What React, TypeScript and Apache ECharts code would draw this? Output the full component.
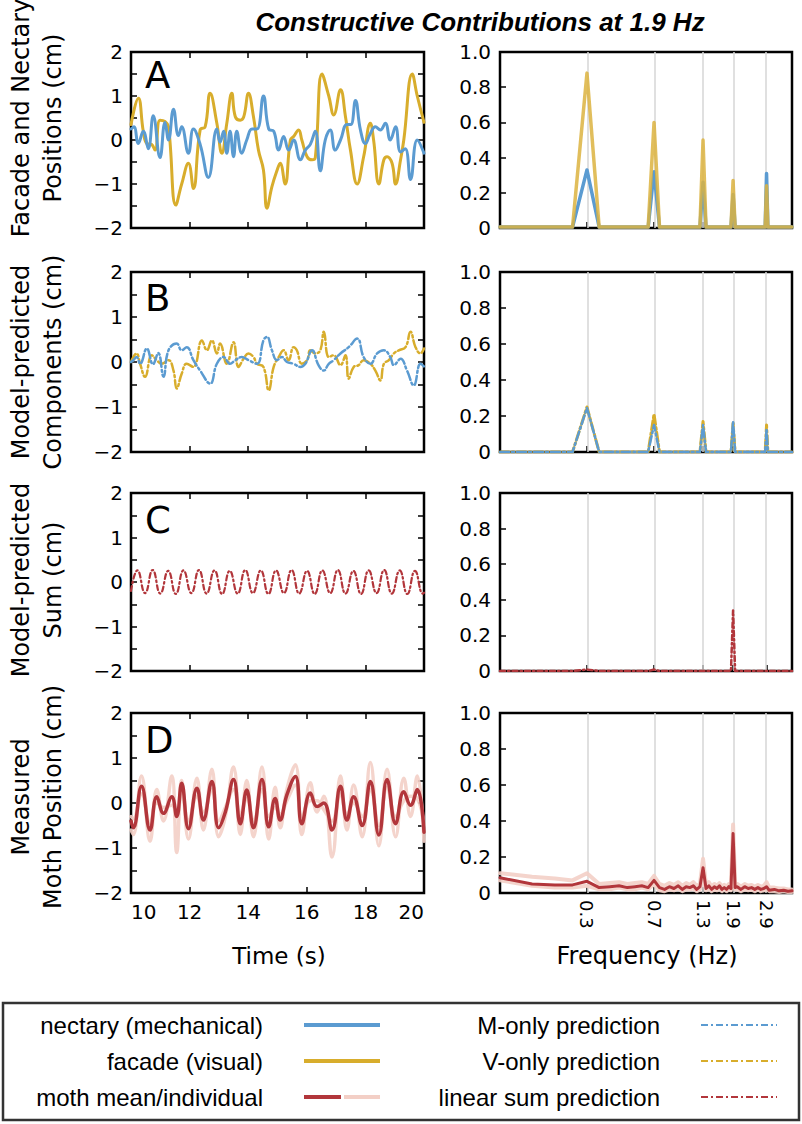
import React, { useEffect, useRef } from 'react';
import * as echarts from 'echarts';

// ---------------- DATA ----------------
// Time-domain traces: [time (s), position (cm)]
const FACADE_A: [number, number][] = [
  [10.0, 0.35], [10.25, 0.95], [10.42, 0.2], [10.54, -0.08], [10.7, -0.1], [10.82, -0.23], [10.99, 0.45],
  [11.16, 0.42], [11.28, 0.3], [11.53, -1.48], [11.73, -1.0], [11.96, -0.53], [12.13, -1.1], [12.36, 0.23],
  [12.53, 0.3], [12.7, 1.06], [12.93, 0.38], [13.1, -0.3], [13.27, 0.38], [13.44, 1.06], [13.56, 0.53],
  [13.73, 0.45], [13.85, 0.53], [14.01, 1.06], [14.18, 0.53], [14.35, -0.23], [14.52, -0.68], [14.64, -1.55],
  [14.81, -1.06], [14.98, -0.7], [15.09, -0.53], [15.26, -1.0], [15.44, 0.0], [15.55, 0.08], [15.72, 0.23],
  [15.83, 0.0], [16.01, -0.38], [16.18, -0.45], [16.29, -0.4], [16.52, 1.5], [16.75, 1.0], [16.92, 0.57],
  [17.15, 1.14], [17.32, 0.53], [17.49, -0.23], [17.72, -1.0], [17.94, -0.38], [18.17, 0.38], [18.28, 0.0],
  [18.46, -1.0], [18.63, -0.45], [18.74, -0.38], [18.91, -0.53], [19.03, -1.0], [19.2, -0.45], [19.31, 0.0],
  [19.6, 1.5], [19.77, 1.0], [20.0, 0.4],
];
const NECTARY_A: [number, number][] = [
  [10.0, 0.25], [10.1, 0.3], [10.25, -0.08], [10.42, 0.2], [10.59, -0.2], [10.76, 0.55], [10.99, -0.4],
  [11.16, 0.4], [11.28, 0.0], [11.45, 0.7], [11.62, 0.1], [11.73, 0.3], [11.96, -0.3], [12.13, 0.25],
  [12.36, -0.1], [12.64, -0.85], [12.93, 0.25], [13.04, -0.05], [13.16, 0.2], [13.27, -0.3], [13.38, 0.2],
  [13.5, -0.38], [13.61, 0.2], [13.78, -0.3], [13.95, 0.0], [14.13, 0.25], [14.3, 0.25], [14.52, 1.0],
  [14.7, 0.25], [14.87, 0.2], [15.04, -0.23], [15.21, 0.08], [15.38, -0.23], [15.55, 0.0], [15.78, -0.45],
  [15.95, -0.23], [16.12, -0.1], [16.29, 0.2], [16.46, -0.7], [16.63, 0.0], [16.8, 0.23], [16.97, -0.23],
  [17.15, 0.0], [17.37, 0.35], [17.5, 0.35], [17.66, 0.9], [17.83, 0.23], [18.0, -0.08], [18.17, 0.15],
  [18.34, 0.3], [18.51, 0.23], [18.68, 0.38], [18.85, 0.0], [19.03, 0.3], [19.2, -0.27], [19.36, -0.2],
  [19.54, -0.9], [19.77, 0.0], [20.0, -0.3],
];
const M_ONLY_B: [number, number][] = [
  [10.0, 0.0], [10.08, 0.04], [10.19, 0.11], [10.31, -0.04], [10.54, 0.3], [10.75, -0.05], [10.93, 0.2],
  [11.11, -0.33], [11.28, 0.26], [11.56, 0.41], [11.73, 0.26], [11.9, 0.33], [12.13, 0.04], [12.36, -0.19],
  [12.7, -0.48], [12.93, -0.04], [13.16, 0.11], [13.38, -0.04], [13.56, 0.04], [13.78, 0.11], [14.01, 0.04],
  [14.3, -0.04], [14.52, 0.48], [14.64, 0.56], [14.81, 0.26], [14.98, 0.04], [15.15, 0.11], [15.32, 0.0],
  [15.55, -0.04], [15.78, -0.11], [15.95, -0.04], [16.18, 0.26], [16.4, -0.07], [16.58, -0.19], [16.75, -0.04],
  [16.92, 0.04], [17.15, 0.19], [17.43, 0.33], [17.72, 0.52], [17.94, 0.11], [18.17, -0.04], [18.4, 0.19],
  [18.63, 0.26], [18.85, 0.11], [18.97, -0.07], [19.2, 0.07], [19.42, -0.19], [19.65, -0.52], [19.88, -0.04],
  [20.0, -0.1],
];
const V_ONLY_B: [number, number][] = [
  [10.0, 0.0], [10.19, 0.19], [10.31, -0.04], [10.48, -0.33], [10.71, 0.15], [10.88, 0.04], [11.05, -0.04],
  [11.28, 0.04], [11.45, -0.19], [11.56, -0.59], [11.73, -0.26], [11.9, -0.04], [12.13, -0.11], [12.42, 0.48],
  [12.59, 0.26], [12.76, 0.48], [12.93, 0.19], [13.04, 0.41], [13.27, -0.04], [13.5, 0.44], [13.67, -0.11],
  [13.84, 0.07], [14.01, 0.19], [14.18, 0.11], [14.3, -0.04], [14.52, -0.11], [14.7, -0.63], [14.87, -0.11],
  [15.04, 0.11], [15.21, 0.26], [15.38, 0.04], [15.55, 0.33], [15.66, 0.26], [15.83, -0.04], [16.01, 0.04],
  [16.12, 0.26], [16.29, 0.19], [16.46, 0.26], [16.58, 0.67], [16.75, 0.11], [16.92, 0.15], [17.15, -0.07],
  [17.32, 0.15], [17.43, -0.37], [17.6, -0.11], [17.77, -0.07], [17.94, 0.04], [18.17, -0.04], [18.34, -0.19],
  [18.51, -0.41], [18.63, -0.04], [18.8, 0.04], [18.97, 0.19], [19.14, 0.26], [19.37, 0.33], [19.54, 0.67],
  [19.71, 0.33], [19.88, 0.19], [20.0, 0.3],
];
const SUM_C: [number, number][] = [
  [10.0, -0.2], [10.22, 0.26], [10.48, -0.25], [10.74, 0.27], [11.0, -0.26], [11.27, 0.25], [11.53, -0.27],
  [11.79, 0.26], [12.06, -0.25], [12.32, 0.27], [12.58, -0.26], [12.85, 0.26], [13.11, -0.27], [13.37, 0.25],
  [13.64, -0.26], [13.9, 0.27], [14.16, -0.25], [14.43, 0.26], [14.69, -0.27], [14.95, 0.26], [15.22, -0.25],
  [15.48, 0.27], [15.74, -0.26], [16.01, 0.25], [16.27, -0.27], [16.53, 0.26], [16.8, -0.25], [17.06, 0.27],
  [17.32, -0.26], [17.59, 0.25], [17.85, -0.27], [18.11, 0.26], [18.38, -0.25], [18.64, 0.27], [18.9, -0.26],
  [19.17, 0.26], [19.43, -0.27], [19.69, 0.25], [19.96, -0.26], [20.0, -0.24],
];
const MOTH_MEAN_D: [number, number][] = [
  [10.0, -0.4], [10.08, -0.55], [10.36, 0.37], [10.65, -0.6], [10.88, 0.14], [11.11, -0.23], [11.39, 0.14],
  [11.56, -0.3], [11.73, 0.44], [11.96, -0.57], [12.25, 0.33], [12.47, -0.38], [12.76, 0.48], [12.99, -0.55],
  [13.22, -0.2], [13.5, 0.52], [13.73, -0.46], [13.95, 0.29], [14.18, -0.55], [14.47, 0.52], [14.7, -0.53],
  [14.92, 0.1], [15.09, -0.38], [15.32, 0.18], [15.61, 0.59], [15.83, -0.46], [16.12, 0.22], [16.35, -0.08],
  [16.58, 0.0], [16.86, -0.6], [17.15, 0.37], [17.37, -0.38], [17.6, 0.14], [17.89, -0.5], [18.17, 0.48],
  [18.46, -0.71], [18.74, 0.52], [19.03, -0.46], [19.31, 0.25], [19.54, -0.05], [19.77, 0.3], [20.0, -0.65],
];
const MOTH_IND1_D: [number, number][] = [
  [10.0, -0.6], [10.08, -0.7], [10.36, 0.6], [10.65, -0.85], [10.88, 0.3], [11.11, -0.4], [11.39, 0.6],
  [11.56, -1.1], [11.73, 0.5], [11.96, -0.8], [12.25, 0.55], [12.47, -0.6], [12.76, 0.75], [12.99, -0.75],
  [13.22, -0.3], [13.5, 0.8], [13.73, -0.7], [13.95, 0.5], [14.18, -0.75], [14.47, 0.8], [14.7, -0.8],
  [14.92, 0.35], [15.09, -0.55], [15.32, 0.3], [15.61, 0.85], [15.83, -0.7], [16.12, 0.45], [16.35, -0.2],
  [16.58, 0.15], [16.86, -1.2], [17.15, 0.6], [17.37, -0.6], [17.6, 0.4], [17.89, -0.75], [18.17, 0.9],
  [18.46, -0.95], [18.74, 0.75], [19.03, -0.75], [19.31, 0.55], [19.54, -0.3], [19.77, 0.6], [20.0, -0.85],
];
const MOTH_IND2_D: [number, number][] = [
  [10.0, -0.3], [10.08, -0.35], [10.36, 0.2], [10.65, -0.45], [10.88, 0.0], [11.11, -0.1], [11.39, -0.05],
  [11.56, -0.2], [11.73, 0.3], [11.96, -0.4], [12.25, 0.15], [12.47, -0.2], [12.76, 0.3], [12.99, -0.4],
  [13.22, -0.1], [13.5, 0.3], [13.73, -0.25], [13.95, 0.1], [14.18, -0.4], [14.47, 0.3], [14.7, -0.3],
  [14.92, -0.1], [15.09, -0.25], [15.32, 0.05], [15.61, 0.4], [15.83, -0.3], [16.12, 0.05], [16.35, 0.05],
  [16.58, -0.15], [16.86, -0.4], [17.15, 0.2], [17.37, -0.25], [17.6, 0.0], [17.89, -0.3], [18.17, 0.3],
  [18.46, -0.5], [18.74, 0.35], [19.03, -0.3], [19.31, 0.05], [19.54, 0.15], [19.77, 0.1], [20.0, -0.5],
];

// Spectra: [frequency (Hz), amplitude]
const NECTARY_SPEC_A: [number, number][] = [
  [0.1, 0.005], [0.25, 0.005], [0.3, 0.33], [0.35, 0.005], [0.65, 0.005], [0.7, 0.32], [0.75, 0.005],
  [1.25, 0.005], [1.3, 0.26], [1.35, 0.005], [1.85, 0.005], [1.9, 0.19], [1.95, 0.005], [2.85, 0.005],
  [2.9, 0.31], [2.95, 0.005], [4.0, 0.005],
];
const FACADE_SPEC_A: [number, number][] = [
  [0.1, 0.005], [0.25, 0.005], [0.3, 0.88], [0.35, 0.005], [0.65, 0.005], [0.7, 0.6], [0.75, 0.005],
  [1.25, 0.005], [1.3, 0.5], [1.35, 0.005], [1.85, 0.005], [1.9, 0.27], [1.95, 0.005], [2.85, 0.005],
  [2.9, 0.24], [2.95, 0.005], [4.0, 0.005],
];
const M_ONLY_SPEC_B: [number, number][] = [
  [0.1, 0], [0.25, 0], [0.3, 0.245], [0.35, 0], [0.65, 0], [0.7, 0.15], [0.75, 0],
  [1.25, 0], [1.3, 0.15], [1.35, 0], [1.85, 0], [1.9, 0.17], [1.95, 0], [2.85, 0],
  [2.9, 0.13], [2.95, 0], [4.0, 0],
];
const V_ONLY_SPEC_B: [number, number][] = [
  [0.1, 0], [0.25, 0], [0.3, 0.25], [0.35, 0], [0.65, 0], [0.7, 0.21], [0.75, 0],
  [1.25, 0], [1.3, 0.17], [1.35, 0], [1.85, 0], [1.9, 0.16], [1.95, 0], [2.85, 0],
  [2.9, 0.15], [2.95, 0], [4.0, 0],
];
const SUM_SPEC_C: [number, number][] = [
  [0.1, 0], [0.25, 0], [0.3, 0.008], [0.35, 0], [0.65, 0], [0.7, 0.008], [0.75, 0],
  [1.85, 0], [1.9, 0.34], [1.95, 0], [4.0, 0],
];
const FREQ_D = [
  0.1, 0.15, 0.2, 0.25, 0.3, 0.35, 0.4, 0.45, 0.5, 0.55, 0.6, 0.65, 0.7, 0.75, 0.8, 0.85, 0.9, 0.95, 1.0,
  1.05, 1.1, 1.15, 1.2, 1.25, 1.3, 1.35, 1.4, 1.45, 1.5, 1.55, 1.6, 1.65, 1.7, 1.75, 1.8, 1.85, 1.9, 1.95,
  2.0, 2.1, 2.2, 2.3, 2.4, 2.5, 2.6, 2.7, 2.8, 2.9, 3.0, 3.2, 3.4, 3.6, 3.8, 4.0,
];
const MOTH_MEAN_SPEC_D = [
  0.085, 0.05, 0.045, 0.045, 0.065, 0.03, 0.035, 0.04, 0.03, 0.035, 0.04, 0.03, 0.07, 0.03, 0.02, 0.035,
  0.025, 0.04, 0.02, 0.035, 0.03, 0.04, 0.02, 0.035, 0.14, 0.025, 0.04, 0.02, 0.035, 0.025, 0.04, 0.02,
  0.03, 0.02, 0.035, 0.025, 0.33, 0.03, 0.035, 0.02, 0.035, 0.025, 0.03, 0.02, 0.03, 0.02, 0.025, 0.035,
  0.015, 0.02, 0.012, 0.015, 0.01, 0.012,
];
const MOTH_IND1_SPEC_D = [
  0.11, 0.09, 0.08, 0.07, 0.11, 0.05, 0.055, 0.06, 0.05, 0.055, 0.06, 0.05, 0.095, 0.05, 0.04, 0.055,
  0.045, 0.06, 0.04, 0.055, 0.045, 0.06, 0.04, 0.05, 0.19, 0.04, 0.06, 0.035, 0.05, 0.04, 0.055, 0.035,
  0.045, 0.035, 0.05, 0.04, 0.38, 0.05, 0.05, 0.035, 0.05, 0.04, 0.045, 0.035, 0.045, 0.035, 0.04, 0.06,
  0.03, 0.03, 0.025, 0.025, 0.02, 0.02,
];
const MOTH_IND2_SPEC_D = [
  0.07, 0.04, 0.03, 0.03, 0.04, 0.02, 0.02, 0.03, 0.02, 0.02, 0.03, 0.02, 0.05, 0.015, 0.01, 0.02,
  0.015, 0.025, 0.01, 0.02, 0.02, 0.025, 0.01, 0.02, 0.1, 0.015, 0.025, 0.01, 0.02, 0.015, 0.025, 0.01,
  0.02, 0.01, 0.02, 0.015, 0.28, 0.02, 0.02, 0.01, 0.02, 0.015, 0.02, 0.01, 0.02, 0.01, 0.015, 0.02,
  0.01, 0.01, 0.005, 0.01, 0.005, 0.005,
];

const DRIVE_FREQS = [0.3, 0.7, 1.3, 1.9, 2.9];
const FREQ_MIN = 0.1;
const FREQ_MAX = 4;
const TIME_TICKS = { min: 10, max: 20, interval: 2 };
const POS_TICKS = { min: -2, max: 2, interval: 1 };
const AMP_TICKS = { min: 0, max: 1, interval: 0.2 };

const TITLE = 'Constructive Contributions at 1.9 Hz';
const ROW_LETTERS = ['A', 'B', 'C', 'D'];
const ROW_YLABELS = [
  'Facade and Nectary\nPositions (cm)',
  'Model-predicted\nComponents (cm)',
  'Model-predicted\nSum (cm)',
  'Measured\nMoth Position (cm)',
];
const LEGEND_LEFT = ['nectary (mechanical)', 'facade (visual)', 'moth mean/individual'];
const LEGEND_RIGHT = ['M-only prediction', 'V-only prediction', 'linear sum prediction'];

// ---------------- STYLE ----------------
const BLUE = '#5b9bd1';
const YELLOW = '#d8ad2c';
const RED = '#b2363b';
const PINK = '#f3cfc6';
const GRIDGRAY = '#d6d6d6';
const FONT = 'DejaVu Sans';
const DASHDOT = [9, 3, 2, 3];
const DASHDOT_C = [5, 3, 1.5, 3];

const LEFT_X = 131;
const LEFT_W = 293;
const RIGHT_X = 500;
const RIGHT_W = 292;
const ROWS = [
  { top: 52, h: 176, ylabelY: 118, letterY: 75 },
  { top: 272, h: 180, ylabelY: 362, letterY: 298 },
  { top: 493, h: 178, ylabelY: 580, letterY: 520 },
  { top: 713, h: 180, ylabelY: 797, letterY: 740 },
];

const lg = (f: number) => Math.log10(f);
const toLog = (pairs: [number, number][]) => pairs.map(([f, v]) => [lg(f), v]);
const zipLog = (fs: number[], vs: number[]) => fs.map((f, i) => [lg(f), vs[i]]);

const tickStyle = { color: '#000', width: 1.5 };
const noLine = { show: false, onZero: false };

function buildOption() {
  const grid: any[] = [];
  const xAxis: any[] = [];
  const yAxis: any[] = [];
  const series: any[] = [];
  const graphic: any[] = [];

  ROWS.forEach((r, i) => {
    grid[i] = { left: LEFT_X, top: r.top, width: LEFT_W, height: r.h, show: true, borderColor: '#000', borderWidth: 2.5, backgroundColor: 'transparent' };
    grid[4 + i] = { left: RIGHT_X, top: r.top, width: RIGHT_W, height: r.h, show: true, borderColor: '#000', borderWidth: 2.5, backgroundColor: 'transparent' };
  });

  const isLast = (i: number) => i === 3;
  // x axes: 0-3 time bottom, 4-7 freq bottom, 8-11 time top
  for (let i = 0; i < 4; i++) {
    xAxis[i] = {
      type: 'value', gridIndex: i, position: 'bottom', ...TIME_TICKS,
      axisLine: noLine,
      axisTick: { show: true, inside: true, length: 6, lineStyle: tickStyle },
      axisLabel: {
        show: isLast(i), color: '#000', fontFamily: FONT, fontSize: 20, margin: 9,
        showMinLabel: true, showMaxLabel: true, alignMinLabel: 'left', alignMaxLabel: 'right',
      },
      splitLine: { show: false },
    };
  }
  const freqTickVals = DRIVE_FREQS.map(lg);
  for (let i = 0; i < 4; i++) {
    xAxis[4 + i] = {
      type: 'value', gridIndex: 4 + i, position: 'bottom', min: lg(FREQ_MIN), max: lg(FREQ_MAX),
      axisLine: noLine,
      axisTick: { show: true, inside: true, length: 6, lineStyle: tickStyle, customValues: freqTickVals },
      axisLabel: {
        show: isLast(i), customValues: freqTickVals, rotate: -90, color: '#000', fontFamily: FONT,
        fontSize: 18, margin: 7,
        formatter: (v: number) => Math.pow(10, v).toFixed(1),
      },
      splitLine: { show: false },
    };
  }
  for (let i = 0; i < 4; i++) {
    xAxis[8 + i] = {
      type: 'value', gridIndex: i, position: 'top', ...TIME_TICKS,
      axisLine: noLine,
      axisTick: { show: true, inside: true, length: 6, lineStyle: tickStyle },
      axisLabel: { show: false },
      splitLine: { show: false },
    };
  }
  // y axes: 0-3 pos left, 4-7 amp left, 8-11 pos right
  for (let i = 0; i < 4; i++) {
    yAxis[i] = {
      type: 'value', gridIndex: i, position: 'left', ...POS_TICKS,
      axisLine: noLine,
      axisTick: { show: true, inside: true, length: 6, lineStyle: tickStyle },
      minorTick: { show: true, splitNumber: 2, length: 6, lineStyle: tickStyle },
      axisLabel: {
        color: '#000', fontFamily: FONT, fontSize: 20, margin: 8,
        formatter: (v: number) => (v < 0 ? '\u2212' + Math.abs(v) : String(v)),
      },
      splitLine: { show: false }, minorSplitLine: { show: false },
    };
    yAxis[4 + i] = {
      type: 'value', gridIndex: 4 + i, position: 'left', ...AMP_TICKS,
      axisLine: noLine,
      axisTick: { show: true, inside: true, length: 6, lineStyle: tickStyle },
      axisLabel: {
        color: '#000', fontFamily: FONT, fontSize: 20, margin: 9,
        formatter: (v: number) => (v === 0 ? '0' : v.toFixed(1)),
      },
      splitLine: { show: false },
    };
    yAxis[8 + i] = {
      type: 'value', gridIndex: i, position: 'right', ...POS_TICKS,
      axisLine: noLine,
      axisTick: { show: true, inside: true, length: 6, lineStyle: tickStyle },
      minorTick: { show: true, splitNumber: 2, length: 6, lineStyle: tickStyle },
      axisLabel: { show: false },
      splitLine: { show: false }, minorSplitLine: { show: false },
    };
  }

  const line = (xi: number, yi: number, data: any[], color: string, width: number, opts: any = {}) => ({
    type: 'line', xAxisIndex: xi, yAxisIndex: yi, data, showSymbol: false, symbol: 'none',
    silent: true, z: 3,
    lineStyle: { color, width, type: opts.dash || 'solid', opacity: opts.opacity ?? 1, cap: 'round', join: 'round' },
    smooth: opts.smooth ?? false,
  });

  // gridlines at driving frequencies in right panels
  for (let i = 0; i < 4; i++) {
    series.push({
      type: 'line', xAxisIndex: 4 + i, yAxisIndex: 4 + i, data: [[lg(FREQ_MIN), 0]], symbol: 'none',
      silent: true, z: 1, lineStyle: { width: 0, opacity: 0 },
      markLine: {
        z: 1, silent: true, symbol: ['none', 'none'], label: { show: false },
        lineStyle: { color: GRIDGRAY, width: 1.5, type: 'solid' },
        data: DRIVE_FREQS.map((f) => ({ xAxis: lg(f) })),
      },
    });
  }

  const SM = 0.45;
  // Row A
  series.push(line(0, 0, FACADE_A, YELLOW, 3, { smooth: SM }));
  series.push(line(0, 0, NECTARY_A, BLUE, 3, { smooth: SM }));
  series.push(line(4, 4, toLog(NECTARY_SPEC_A), BLUE, 3.5));
  series.push(line(4, 4, toLog(FACADE_SPEC_A), '#dcb33f', 3.5, { opacity: 0.85 }));
  // Row B
  series.push(line(1, 1, V_ONLY_B, YELLOW, 2.5, { smooth: SM, dash: DASHDOT }));
  series.push(line(1, 1, M_ONLY_B, BLUE, 2.5, { smooth: SM, dash: DASHDOT }));
  series.push(line(5, 5, toLog(V_ONLY_SPEC_B), YELLOW, 3, { dash: DASHDOT }));
  series.push(line(5, 5, toLog(M_ONLY_SPEC_B), BLUE, 2.5, { dash: DASHDOT }));
  // Row C
  series.push(line(2, 2, SUM_C, RED, 2.2, { smooth: 0.5, dash: DASHDOT_C }));
  series.push(line(6, 6, toLog(SUM_SPEC_C), RED, 2.5, { dash: DASHDOT_C }));
  // Row D
  series.push(line(3, 3, MOTH_IND1_D, PINK, 3.5, { smooth: SM, opacity: 0.9 }));
  series.push(line(3, 3, MOTH_IND2_D, PINK, 3.5, { smooth: SM, opacity: 0.9 }));
  series.push(line(3, 3, MOTH_MEAN_D, RED, 3.5, { smooth: SM }));
  series.push(line(7, 7, zipLog(FREQ_D, MOTH_IND1_SPEC_D), PINK, 4, { opacity: 0.9 }));
  series.push(line(7, 7, zipLog(FREQ_D, MOTH_IND2_SPEC_D), PINK, 4, { opacity: 0.9 }));
  series.push(line(7, 7, zipLog(FREQ_D, MOTH_MEAN_SPEC_D), RED, 3));

  // ---------- graphic texts ----------
  graphic.push({
    type: 'text', x: 480, y: 22, silent: true,
    style: { text: TITLE, fontFamily: 'Liberation Sans', fontSize: 26, fontWeight: 'bold', fontStyle: 'italic', fill: '#000', align: 'center', verticalAlign: 'middle' },
  });
  ROWS.forEach((r, i) => {
    graphic.push({
      type: 'text', x: 37, y: r.ylabelY, rotation: Math.PI / 2, silent: true,
      style: { text: ROW_YLABELS[i], fontFamily: FONT, fontSize: 24, lineHeight: 32, fill: '#000', align: 'center', verticalAlign: 'middle' },
    });
    graphic.push({
      type: 'text', x: 145, y: r.letterY, silent: true,
      style: { text: ROW_LETTERS[i], fontFamily: FONT, fontSize: 37, fill: '#000', align: 'left', verticalAlign: 'middle' },
    });
  });
  graphic.push({
    type: 'text', x: 279, y: 956, silent: true,
    style: { text: 'Time (s)', fontFamily: FONT, fontSize: 23, fill: '#000', align: 'center', verticalAlign: 'middle' },
  });
  graphic.push({
    type: 'text', x: 647, y: 956, silent: true,
    style: { text: 'Frequency (Hz)', fontFamily: FONT, fontSize: 24, fill: '#000', align: 'center', verticalAlign: 'middle' },
  });

  // ---------- legend box ----------
  graphic.push({
    type: 'rect', silent: true, shape: { x: 3, y: 1003, width: 796, height: 117 },
    style: { fill: '#fff', stroke: '#333', lineWidth: 2.5 },
  });
  const rowsY = [1025, 1061, 1097];
  LEGEND_LEFT.forEach((t, k) => {
    graphic.push({
      type: 'text', x: 263, y: rowsY[k], silent: true,
      style: { text: t, fontFamily: 'Liberation Sans', fontSize: 24, fill: '#000', align: 'right', verticalAlign: 'middle' },
    });
  });
  LEGEND_RIGHT.forEach((t, k) => {
    graphic.push({
      type: 'text', x: 660, y: rowsY[k], silent: true,
      style: { text: t, fontFamily: 'Liberation Sans', fontSize: 24, fill: '#000', align: 'right', verticalAlign: 'middle' },
    });
  });
  const seg = (x1: number, x2: number, y: number, stroke: string, w: number, dash?: number[]) => ({
    type: 'line', silent: true, shape: { x1, y1: y, x2, y2: y },
    style: { stroke, lineWidth: w, lineDash: dash || null },
  });
  graphic.push(seg(304, 380, rowsY[0], BLUE, 4));
  graphic.push(seg(304, 380, rowsY[1], YELLOW, 4));
  graphic.push(seg(304, 341, rowsY[2], RED, 4));
  graphic.push(seg(344, 380, rowsY[2], PINK, 4));
  graphic.push(seg(701, 777, rowsY[0], BLUE, 2, [7, 3, 2, 3]));
  graphic.push(seg(701, 777, rowsY[1], YELLOW, 2, [7, 3, 2, 3]));
  graphic.push(seg(701, 777, rowsY[2], RED, 2, [7, 3, 2, 3]));

  return {
    animation: false,
    backgroundColor: '#fff',
    textStyle: { fontFamily: FONT },
    grid, xAxis, yAxis, series, graphic,
  };
}

export default function App() {
  const ref = useRef<HTMLDivElement>(null);
  useEffect(() => {
    const chart = echarts.init(ref.current!, null, { renderer: 'svg' });
    chart.setOption(buildOption() as any);
    return () => chart.dispose();
  }, []);
  return (
    <div
      ref={ref}
      style={{ position: 'fixed', left: 0, top: 0, width: 802, height: 1124, background: '#fff' }}
    />
  );
}
